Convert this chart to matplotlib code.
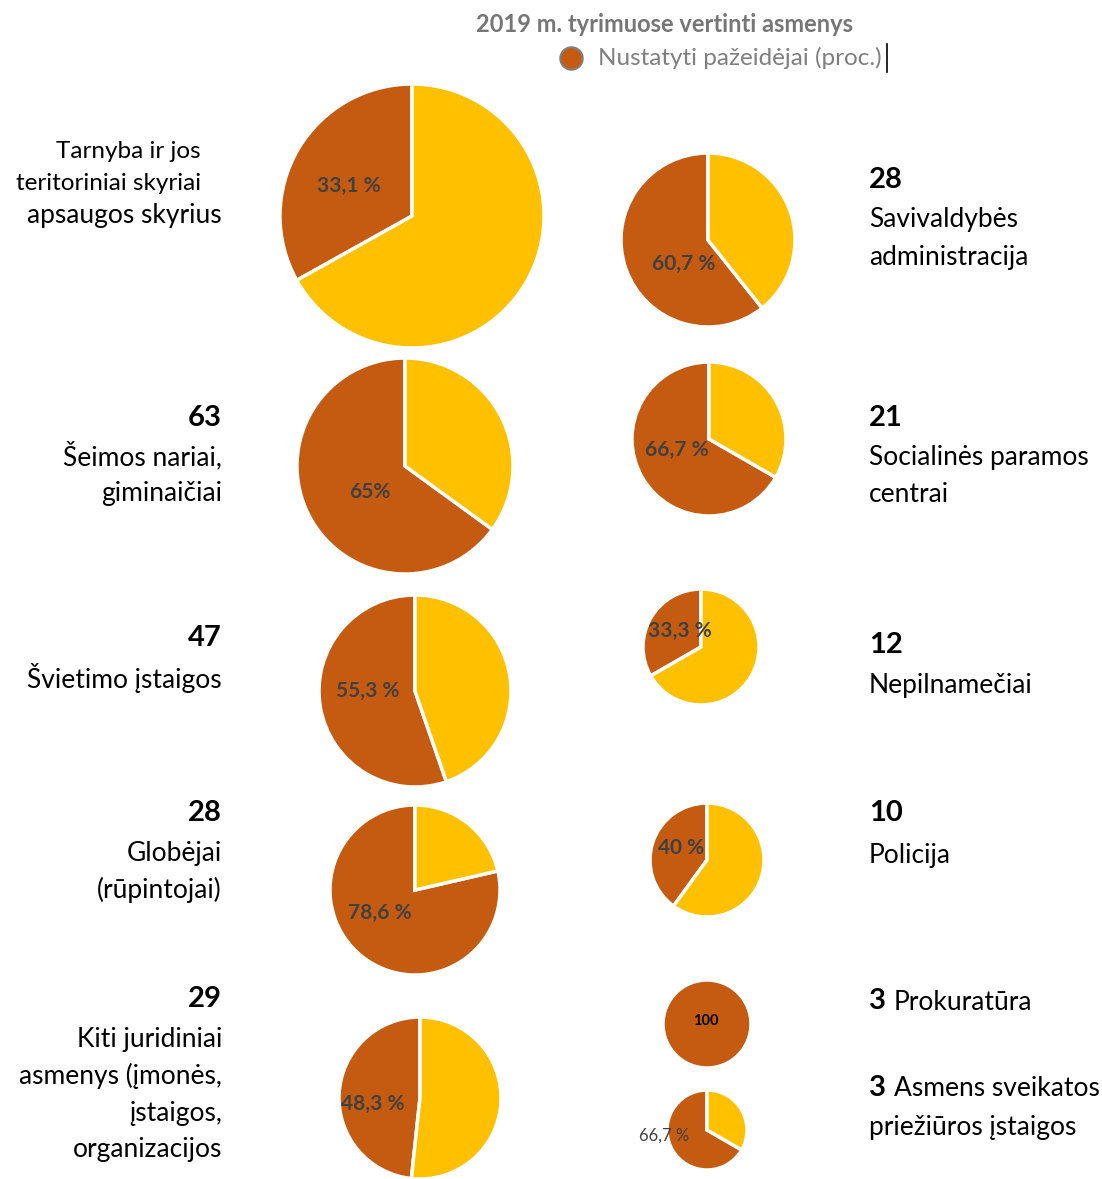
import matplotlib.pyplot as plt

W, H = 1102, 1179

# data
groups = ['Tarnyba', 'Savivaldybės administracija', 'Šeimos nariai, giminaičiai',
          'Socialinės paramos centrai', 'Švietimo įstaigos', 'Nepilnamečiai',
          'Globėjai (rūpintojai)', 'Policija', 'Kiti juridiniai asmenys',
          'Prokuratūra', 'Asmens sveikatos priežiūros įstaigos']
counts = [None, 28, 63, 21, 47, 12, 28, 10, 29, 3, 3]
violators_pct = [33.1, 60.7, 65, 66.7, 55.3, 33.3, 78.6, 40, 48.3, 100, 66.7]
pct_labels = ['33,1 %', '60,7 %', '65%', '66,7 %', '55,3 %', '33,3 %',
              '78,6 %', '40 %', '48,3 %', '100', '66,7 %']

# layout (pixel coords): center x, center y, radius, label x, label y
layout = [
    (412, 216, 132, 349, 186),
    (708, 240, 87, 684, 264),
    (405, 466, 108, 370, 492),
    (709, 439, 77, 677, 450),
    (415, 691, 96, 368, 691),
    (701, 647, 58, 680, 631),
    (415, 890, 85, 380, 913),
    (707, 860, 57, 681, 848),
    (420, 1098, 81, 373, 1104),
    (707, 1024, 44, 706, 1021),
    (707, 1130, 40, 664, 1136),
]

BROWN = '#C55A11'
YELLOW = '#FFC000'
LABEL = '#404040'

plt.rcParams['font.family'] = ['Lato', 'DejaVu Sans']

fig = plt.figure(figsize=(W / 100, H / 100), dpi=100)
ax = fig.add_axes([0, 0, 1, 1])

for i, p in enumerate(violators_pct):
    cx, cy, r, lx, ly = layout[i]
    vals = [p, 100 - p] if p < 100 else [p]
    cols = [BROWN, YELLOW] if p < 100 else [BROWN]
    ax.pie(vals, colors=cols, startangle=90, counterclock=True,
           center=(cx, H - cy), radius=r,
           wedgeprops=dict(edgecolor='white', linewidth=2.5))
    if pct_labels[i] == '100':
        ax.text(lx, H - ly, pct_labels[i], ha='center', va='center',
                fontsize=10.5, fontweight='bold', color='black')
    elif i == len(violators_pct) - 1:
        ax.text(lx, H - ly, pct_labels[i], ha='center', va='center',
                fontsize=12, color=LABEL)
    else:
        ax.text(lx, H - ly, pct_labels[i], ha='center', va='center',
                fontsize=15, fontweight='bold', color=LABEL)

ax.set_xlim(0, W)
ax.set_ylim(0, H)
ax.set_aspect('equal')
ax.axis('off')

TXT = dict(fontsize=19, color='black', va='center')
NUM = dict(fontsize=21, fontweight='bold', color='black', va='center')

def t(x, y, s, ha='left', **kw):
    ax.text(x, H - y, s, ha=ha, **kw)

# title / legend
t(664, 25, '2019 m. tyrimuose vertinti asmenys', ha='center', va='center',
  fontsize=17, fontweight='bold', color='#767676')
ax.scatter([571], [H - 58], s=260, color=BROWN, edgecolor='#7f7f7f', linewidth=1.5)
t(598, 58, 'Nustatyti pažeidėjai (proc.)', va='center', fontsize=17.5, color='#7f7f7f')
ax.plot([887, 887], [H - 44, H - 72], color='black', lw=1.2)

# left side labels
t(201, 151, 'Tarnyba ir jos', ha='right', fontsize=17.5, color='black', va='center')
t(201, 184, 'teritoriniai skyriai', ha='right', fontsize=17.5, color='black', va='center')
t(222, 216, 'apsaugos skyrius', ha='right', **TXT)

t(222, 418, str(counts[2]), ha='right', **NUM)
t(222, 456, 'Šeimos nariai,', ha='right', **TXT)
t(222, 494, 'giminaičiai', ha='right', **TXT)

t(222, 638, str(counts[4]), ha='right', **NUM)
t(222, 678, 'Švietimo įstaigos', ha='right', **TXT)

t(222, 813, str(counts[6]), ha='right', **NUM)
t(222, 853, 'Globėjai', ha='right', **TXT)
t(222, 890, '(rūpintojai)', ha='right', **TXT)

t(222, 999, str(counts[8]), ha='right', **NUM)
t(222, 1039, 'Kiti juridiniai', ha='right', **TXT)
t(222, 1076, 'asmenys (įmonės,', ha='right', **TXT)
t(222, 1113, 'įstaigos,', ha='right', **TXT)
t(222, 1150, 'organizacijos', ha='right', **TXT)

# right side labels
t(869, 180, str(counts[1]), **NUM)
t(869, 220, 'Savivaldybės', **TXT)
t(869, 257, 'administracija', **TXT)

t(869, 418, str(counts[3]), **NUM)
t(869, 458, 'Socialinės paramos', **TXT)
t(869, 495, 'centrai', **TXT)

t(869, 645, str(counts[5]), **NUM)
t(869, 685, 'Nepilnamečiai', **TXT)

t(869, 813, str(counts[7]), **NUM)
t(869, 855, 'Policija', **TXT)

t(869, 1001, str(counts[9]), **NUM)
t(894, 1002, 'Prokuratūra', **TXT)

t(869, 1088, str(counts[10]), **NUM)
t(894, 1089, 'Asmens sveikatos', **TXT)
t(869, 1127, 'priežiūros įstaigos', **TXT)

fig.savefig('out.png', dpi=100, facecolor='white')
